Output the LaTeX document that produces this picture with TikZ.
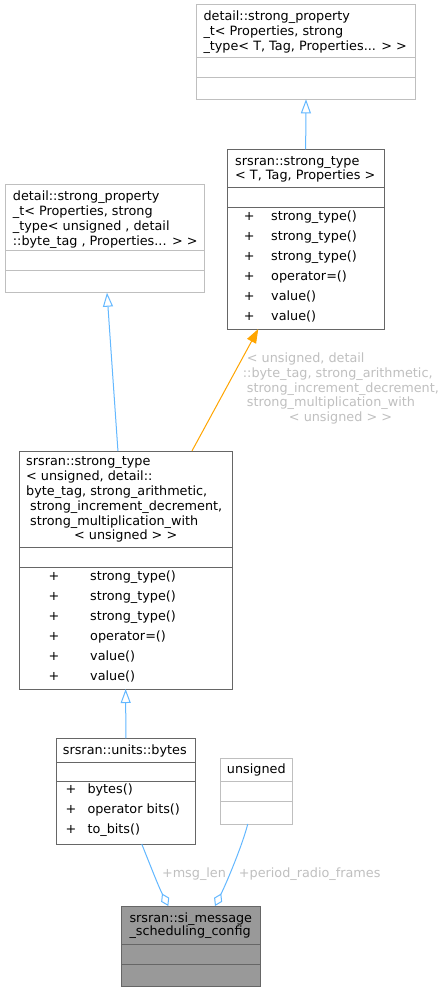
\documentclass[tikz,border=0pt]{standalone}
\usepackage{fontspec}
\setmainfont{DejaVu Sans}
\usetikzlibrary{arrows.meta,calc}
\definecolor{boxdark}{HTML}{666666}
\definecolor{boxlight}{HTML}{BFBFBF}
\definecolor{mainfill}{HTML}{999999}
\definecolor{edgeblue}{HTML}{63B8FF}
\definecolor{edgeorange}{HTML}{FFA500}
\definecolor{labelgrey}{HTML}{C0C0C0}

\begin{document}
\begin{tikzpicture}[x=1pt,y=-1pt,
  classbox/.style={draw=boxdark, line width=1pt, inner sep=0pt, outer sep=0pt, anchor=north west},
  ghostbox/.style={classbox, draw=boxlight},
  darksep/.style={draw=boxdark, line width=1pt},
  lightsep/.style={draw=boxlight, line width=1pt},
  txt/.style={inner sep=0pt, anchor=west, text height=9.3pt, text depth=2.6pt, font=\fontsize{12.8}{14.7}\selectfont},
  ctxt/.style={txt, anchor=center},
  lbl/.style={txt, text=labelgrey},
  clbl/.style={ctxt, text=labelgrey},
  inherit/.style={draw=edgeblue, line width=1pt, -{Triangle[open, length=14pt, width=10pt]}},
  templ/.style={draw=edgeorange, line width=1pt, -{Triangle[length=14pt, width=10pt, fill=edgeorange]}},
  member/.style={draw=edgeblue, line width=1pt, -{Diamond[open, length=14pt, width=9pt]}}
]
% page
\path[use as bounding box, fill=white] (0,0) rectangle (447,992);

% ---- detail::strong_property_t< ..., strong_type< T, Tag, Properties... > >
\node[ghostbox, minimum width=218.6pt, minimum height=94.3pt] (A) at (196.7,5) {};
\draw[lightsep] ($(A.north west)+(0,52.7)$) -- ($(A.north east)+(0,52.7)$);
\draw[lightsep] ($(A.north west)+(0,72.7)$) -- ($(A.north east)+(0,72.7)$);
\node[txt] (a1) at (203.3,17.3) {detail::strong\_property};
\node[txt] (a2) at (203.3,32.0) {\_t< Properties, strong};
\node[txt] (a3) at (203.3,46.7) {\_type< T, Tag, Properties... > >};

% ---- srsran::strong_type< T, Tag, Properties >
\node[classbox, minimum width=156.7pt, minimum height=179.7pt] (B) at (227.3,149.3) {};
\draw[darksep] ($(B.north west)+(0,38)$) -- ($(B.north east)+(0,38)$);
\draw[darksep] ($(B.north west)+(0,58)$) -- ($(B.north east)+(0,58)$);
\node[txt] (b1) at (235,161.7) {srsran::strong\_type};
\node[txt] (b2) at (235,176.2) {< T, Tag, Properties >};
\foreach \t [count=\i] in {strong\_type(),strong\_type(),strong\_type(),operator=(),value(),value()}{
  \node[ctxt] (bp\i) at (249.3,{196.7+20*\i}) {+};
  \node[txt] (bm\i) at (271,{196.7+20*\i}) {\t};
}

% ---- detail::strong_property_t< ..., strong_type< unsigned, detail::byte_tag, ... > >
\node[ghostbox, minimum width=199pt, minimum height=107.7pt] (C) at (5,185) {};
\draw[lightsep] ($(C.north west)+(0,65.7)$) -- ($(C.north east)+(0,65.7)$);
\draw[lightsep] ($(C.north west)+(0,85.7)$) -- ($(C.north east)+(0,85.7)$);
\node[txt] (c1) at (12.7,197.3) {detail::strong\_property};
\node[txt] (c2) at (12.7,212.3) {\_t< Properties, strong};
\node[txt] (c3) at (12.7,227.3) {\_type< unsigned , detail};
\node[txt] (c4) at (12.7,242.3) {::byte\_tag , Properties... > >};

% ---- srsran::strong_type< unsigned, detail::byte_tag, ... >
\node[classbox, minimum width=213.3pt, minimum height=238pt] (D) at (19,451) {};
\draw[darksep] ($(D.north west)+(0,96.3)$) -- ($(D.north east)+(0,96.3)$);
\draw[darksep] ($(D.north west)+(0,116.3)$) -- ($(D.north east)+(0,116.3)$);
\node[txt] (d1) at (26,462.3) {srsran::strong\_type};
\node[txt] (d2) at (26,477.3) {< unsigned, detail::};
\node[txt] (d3) at (26,492.3) {byte\_tag, strong\_arithmetic,};
\node[txt] (d4) at (30,507.3) {strong\_increment\_decrement,};
\node[txt] (d5) at (30,521.7) {strong\_multiplication\_with};
\node[ctxt] (d6) at (125.7,535.9) {< unsigned > >};
\foreach \t [count=\i] in {strong\_type(),strong\_type(),strong\_type(),operator=(),value(),value()}{
  \node[ctxt] (dp\i) at (54,{556.7+20*\i}) {+};
  \node[txt] (dm\i) at (90,{556.7+20*\i}) {\t};
}

% ---- srsran::units::bytes
\node[classbox, minimum width=138.3pt, minimum height=105.7pt] (E) at (56.7,738.3) {};
\draw[darksep] ($(E.north west)+(0,24)$) -- ($(E.north east)+(0,24)$);
\draw[darksep] ($(E.north west)+(0,43.4)$) -- ($(E.north east)+(0,43.4)$);
\node[txt] (e1) at (62.7,750.7) {srsran::units::bytes};
\foreach \t [count=\i] in {bytes(),operator bits(),to\_bits()}{
  \node[ctxt] (ep\i) at (71,{771+19.6*\i}) {+};
  \node[txt] (em\i) at (87.3,{771+19.6*\i}) {\t};
}

% ---- unsigned
\node[ghostbox, minimum width=72.7pt, minimum height=65.7pt] (F) at (220,758.3) {};
\draw[lightsep] ($(F.north west)+(0,23.4)$) -- ($(F.north east)+(0,23.4)$);
\draw[lightsep] ($(F.north west)+(0,42.7)$) -- ($(F.north east)+(0,42.7)$);
\node[ctxt] (f1) at (256.3,770) {unsigned};

% ---- srsran::si_message_scheduling_config
\node[classbox, fill=mainfill, minimum width=139pt, minimum height=80.7pt] (G) at (121.7,906) {};
\draw[darksep] ($(G.north west)+(0,38)$) -- ($(G.north east)+(0,38)$);
\draw[darksep] ($(G.north west)+(0,58)$) -- ($(G.north east)+(0,58)$);
\node[txt] (g1) at (129.3,919) {srsran::si\_message};
\node[txt] (g2) at (129.3,932.6) {\_scheduling\_config};

% ---- connectors
\draw[inherit] (B.north) -- (A.south);
\draw[inherit] ($(D.north)+(-7.7,0)$) -- ($(C.south)+(2.5,0)$);
\draw[templ] ($(D.north)+(66.3,0)$) -- ($(B.south)+(-47.4,0)$);
\draw[inherit] (E.north) -- (D.south);
\draw[member] ($(E.south)+(15.9,0)$) .. controls ($(E.south)+(23.9,20)$) and ($(G.north)+(-32.9,-20)$) .. ($(G.north)+(-22.9,0)$);
\draw[member] ($(F.south)+(-8.6,0)$) .. controls ($(F.south)+(-13.6,20)$) and ($(G.north)+(35.8,-24)$) .. ($(G.north)+(23.8,0)$);

% ---- connector labels
\node[lbl] (t1) at (246.7,359.3) {< unsigned, detail};
\node[lbl] (t2) at (242.7,374.0) {::byte\_tag, strong\_arithmetic,};
\node[lbl] (t3) at (246.7,389.0) {strong\_increment\_decrement,};
\node[lbl] (t4) at (246.7,403.5) {strong\_multiplication\_with};
\node[clbl] (t5) at (340.5,418.3) {< unsigned > >};
\node[clbl] (m1) at (194,874.3) {+msg\_len};
\node[clbl] (m2) at (309.7,874.3) {+period\_radio\_frames};
\end{tikzpicture}
\end{document}
